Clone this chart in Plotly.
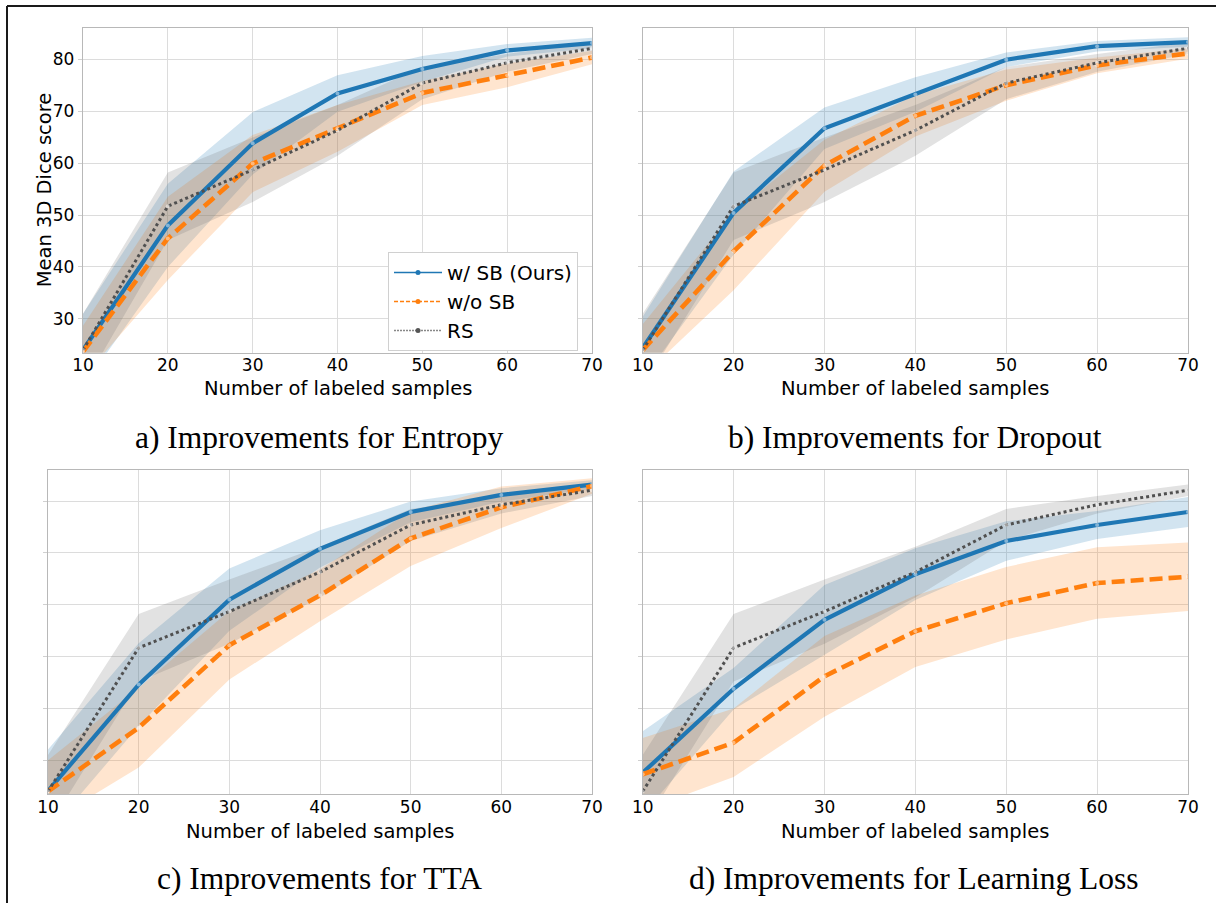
import plotly.graph_objects as go

W, H = 1216, 903

# ---------------- data ----------------
samples = [10, 20, 30, 40, 50, 60, 70]
y_ticks = [30, 40, 50, 60, 70, 80]

series_names = ["w/ SB (Ours)", "w/o SB", "RS"]
captions = ["a) Improvements for Entropy", "b) Improvements for Dropout",
            "c) Improvements for TTA", "d) Improvements for Learning Loss"]
x_title = "Number of labeled samples"
y_title = "Mean 3D Dice score"

# RS baseline (same in every panel)
rs_mean = [24.0, 51.7, 58.7, 66.3, 75.4, 79.3, 82.1]
rs_sd = [7.0, 6.5, 6.2, 4.9, 3.1, 1.7, 1.1]

# a) Entropy
ent_sb_mean = [24.0, 48.0, 63.8, 73.4, 78.1, 81.7, 83.1]
ent_sb_sd = [7.0, 8.0, 6.0, 3.5, 2.5, 1.2, 1.0]
ent_nosb_mean = [23.7, 45.5, 59.9, 66.7, 73.5, 76.9, 80.3]
ent_nosb_sd = [5.0, 8.0, 5.5, 4.5, 2.3, 2.3, 1.3]

# b) Dropout
drop_sb_mean = [24.4, 50.4, 66.7, 73.2, 79.9, 82.5, 83.3]
drop_sb_sd = [6.0, 8.0, 4.0, 3.3, 1.4, 1.0, 0.9]
drop_nosb_mean = [24.0, 43.0, 59.5, 69.1, 75.0, 78.8, 81.1]
drop_nosb_sd = [5.0, 7.5, 5.0, 4.0, 3.0, 1.5, 1.0]

# c) TTA
tta_sb_mean = [24.1, 44.6, 61.0, 70.8, 77.9, 81.2, 83.2]
tta_sb_sd = [8.0, 8.0, 6.0, 3.6, 2.0, 1.3, 0.8]
tta_nosb_mean = [24.0, 36.3, 52.2, 61.8, 72.8, 78.8, 82.9]
tta_nosb_sd = [6.0, 7.7, 6.6, 5.0, 5.3, 4.0, 1.5]

# d) Learning Loss
ll_sb_mean = [27.6, 43.8, 57.1, 65.9, 72.3, 75.4, 77.9]
ll_sb_sd = [8.0, 4.0, 6.7, 5.0, 3.8, 2.7, 2.9]
ll_nosb_mean = [27.3, 33.4, 46.2, 54.9, 60.3, 64.2, 65.4]
ll_nosb_sd = [7.0, 6.6, 7.8, 6.9, 7.0, 6.9, 6.6]

panels = [
    (ent_sb_mean, ent_sb_sd, ent_nosb_mean, ent_nosb_sd),
    (drop_sb_mean, drop_sb_sd, drop_nosb_mean, drop_nosb_sd),
    (tta_sb_mean, tta_sb_sd, tta_nosb_mean, tta_nosb_sd),
    (ll_sb_mean, ll_sb_sd, ll_nosb_mean, ll_nosb_sd),
]

# ---------------- styling ----------------
BLUE, ORANGE, GRAY = "#1f77b4", "#ff7f0e", "#505050"
BAND = ["rgba(31,119,180,0.2)", "rgba(255,127,14,0.2)", "rgba(110,110,110,0.2)"]
LINE_STYLE = [
    dict(color=BLUE, width=4.2, dash="solid"),
    dict(color=ORANGE, width=4.6, dash="13px,6px"),
    dict(color=GRAY, width=3, dash="3px,3px"),
]
LEG_STYLE = [
    dict(color=BLUE, width=1.5, dash="solid"),
    dict(color=ORANGE, width=1.5, dash="4px,2px"),
    dict(color="#888888", width=1.5, dash="2px,1px"),
]
LEG_MARK = [BLUE, ORANGE, "#555555"]

# pixel geometry of plot areas (left, right, top, bottom)
boxes = [(83, 592, 28, 352.7), (642.7, 1188, 28, 352.7),
         (48, 592, 470, 794), (642.7, 1188, 470, 794)]
cap_pos = [(319, 437), (915, 437), (319, 878), (914, 878)]
xtitle_y = [388, 388, 831, 831]

fig = go.Figure()
layout = dict(width=W, height=H, margin=dict(l=0, r=0, t=0, b=0),
              paper_bgcolor="white", plot_bgcolor="white", showlegend=True,
              font=dict(family="DejaVu Sans", color="black"))

tick_font = dict(family="DejaVu Sans", size=17, color="black")
title_font = dict(family="DejaVu Sans", size=19.5, color="black")
annotations = []
for i, (box, data) in enumerate(zip(boxes, panels)):
    l, r, t, b = box
    xa = "xaxis" if i == 0 else f"xaxis{i+1}"
    ya = "yaxis" if i == 0 else f"yaxis{i+1}"
    xr = "x" if i == 0 else f"x{i+1}"
    yr = "y" if i == 0 else f"y{i+1}"
    layout[xa] = dict(domain=[l / W, r / W], anchor=yr, range=[10, 70],
                      tickvals=samples, ticks="", showgrid=True,
                      gridcolor="#dcdcdc", gridwidth=1, zeroline=False,
                      showline=True, linecolor="#b8b8b8", linewidth=1.3, mirror=True,
                      tickfont=tick_font, automargin=False, ticklabelstandoff=-3)
    layout[ya] = dict(domain=[1 - b / H, 1 - t / H], anchor=xr, range=[23.5, 86],
                      tickvals=y_ticks, ticks="outside", ticklen=4, tickcolor="#d0d0d0",
                      showgrid=True, gridcolor="#dcdcdc", gridwidth=1, zeroline=False,
                      showline=True, linecolor="#b8b8b8", linewidth=1.3, mirror=True,
                      showticklabels=(i == 0), tickfont=tick_font, automargin=False)

    sb_m, sb_s, no_m, no_s = data
    means = [sb_m, no_m, rs_mean]
    sds = [sb_s, no_s, rs_sd]
    for k in range(3):
        up = [m + s for m, s in zip(means[k], sds[k])]
        lo = [m - s for m, s in zip(means[k], sds[k])]
        fig.add_trace(go.Scatter(x=samples + samples[::-1], y=up + lo[::-1],
                                 fill="toself", fillcolor=BAND[k], mode="lines",
                                 line=dict(width=0), hoverinfo="skip",
                                 showlegend=False, xaxis=xr, yaxis=yr))
    for k in range(3):
        fig.add_trace(go.Scatter(x=samples, y=means[k], mode="lines+markers",
                                 line=LINE_STYLE[k],
                                 marker=dict(size=4, color="rgba(255,255,255,0.45)",
                                             line=dict(width=0)),
                                 name=series_names[k], showlegend=False,
                                 xaxis=xr, yaxis=yr))
    cx, cy = cap_pos[i]
    annotations.append(dict(text=captions[i], x=cx / W, y=1 - cy / H, xref="paper",
                            yref="paper", xanchor="center", yanchor="middle",
                            showarrow=False,
                            font=dict(family="Liberation Serif", size=31.5, color="black")))
    annotations.append(dict(text=x_title, x=(l + r) / 2 / W, y=1 - xtitle_y[i] / H,
                            xref="paper", yref="paper", xanchor="center",
                            yanchor="middle", showarrow=False, font=title_font))
    if i == 0:
        annotations.append(dict(text=y_title, x=44 / W, y=1 - (t + b) / 2 / H,
                                xref="paper", yref="paper", xanchor="center",
                                yanchor="middle", textangle=-90, showarrow=False,
                                font=title_font))

# legend entries (thin lines with dot markers)
for k in range(3):
    fig.add_trace(go.Scatter(x=[None], y=[None], mode="lines+markers",
                             line=LEG_STYLE[k],
                             marker=dict(size=5, color=LEG_MARK[k]),
                             name=series_names[k],
                             showlegend=True, xaxis="x", yaxis="y"))

layout["legend"] = dict(x=388 / W, y=1 - 252 / H, xanchor="left", yanchor="top",
                        bgcolor="white", bordercolor="#d0d0d0", borderwidth=1,
                        font=dict(family="DejaVu Sans", size=20, color="black"),
                        itemwidth=48, traceorder="normal")
layout["annotations"] = annotations
layout["shapes"] = [
    dict(type="line", xref="paper", yref="paper", x0=7 / W, x1=1, y0=1 - 6 / H, y1=1 - 6 / H,
         line=dict(color="#1a1a1a", width=2)),
    dict(type="line", xref="paper", yref="paper", x0=7 / W, x1=7 / W, y0=0, y1=1 - 6 / H,
         line=dict(color="#1a1a1a", width=2)),
]
fig.update_layout(**layout)
fig.write_html("out.html")
